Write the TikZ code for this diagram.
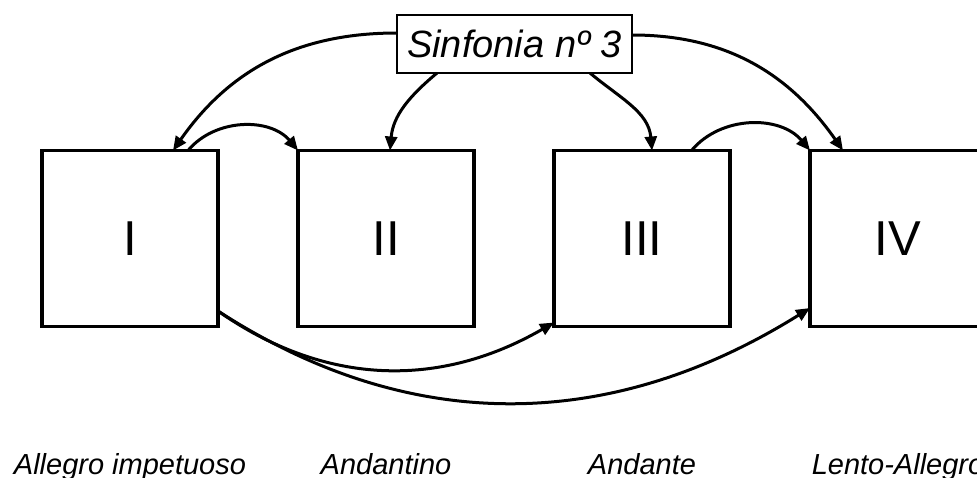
\documentclass[tikz,border=0pt]{standalone}
\usepackage{fontspec}
\setmainfont{Liberation Sans}
\usetikzlibrary{
	positioning,
	arrows.meta
}

\begin{document}
\begin{tikzpicture}[
	movement/.style={draw,line width=3.2pt,minimum size=176pt,inner sep=0pt,outer sep=0pt,font=\fontsize{49}{49}\selectfont},
	tempo/.style={anchor=base,font=\fontsize{29}{29}\selectfont\itshape},
	work/.style={draw,line width=1.8pt,minimum width=235pt,minimum height=58pt,inner sep=0pt,outer sep=0pt,font=\fontsize{38}{38}\selectfont\itshape},
	flow/.style={line width=3pt,-{Triangle[length=14pt,width=12pt]}}
]
	\useasboundingbox (0,0) rectangle (977pt,-477pt);
	\draw
		node [movement]                     (I)   at (130pt,-238.5pt) {I}
		node [movement,right=80pt of I]     (II)  {II}
		node [movement,right=80pt of II]    (III) {III}
		node [movement,right=80pt of III]   (IV)  {IV}
		node [work]                         (S)   at (514.5pt,-44pt) {Sinfonia nº 3}
		node [below=147.5pt of I,tempo]     (tI)   {Allegro impetuoso}
		node [below=147.5pt of II,tempo]    (tII)  {Andantino}
		node [below=147.5pt of III,tempo]   (tIII) {Andante}
		node [below=147.5pt of IV,tempo]    (tIV)  {Lento-Allegro}

		([yshift=11pt]S.west)        edge[flow,out=180,in=55]  ([xshift=43pt]I.north)
		([xshift=40pt]S.south west)  edge[flow,out=220,in=85]  ([xshift=4pt]II.north)
		([xshift=-42pt]S.south east) edge[flow,out=-40,in=95]  ([xshift=10pt]III.north)
		([yshift=9pt]S.east)         edge[flow,out=0,in=125]   ([xshift=-55pt]IV.north)

		([xshift=58pt]I.north)       edge[flow,out=50,in=130]  (II.north west)
		([xshift=49.5pt]III.north)   edge[flow,out=50,in=130]  (IV.north west)
		([yshift=-72.5pt]I.east)     edge[flow,out=-35,in=210] ([yshift=4pt]III.south west)
		([yshift=-72.5pt]I.east)     edge[flow,out=-33,in=212] ([yshift=-69.5pt]IV.west)
	;
\end{tikzpicture}
\end{document}
